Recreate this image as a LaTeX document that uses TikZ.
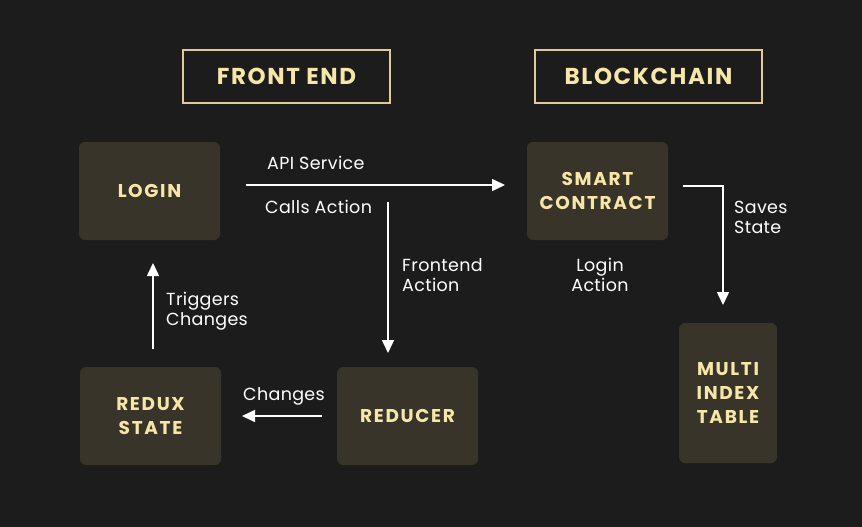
\documentclass[tikz,border=0pt]{standalone}
\usepackage{fontspec}
\setmainfont{Poppins}
\newfontfamily\boxfont[LetterSpace=9]{Poppins}
\newfontfamily\headfont[LetterSpace=7]{Poppins}
\newfontfamily\lblfont[LetterSpace=2]{Poppins}
\usetikzlibrary{arrows.meta}
\definecolor{bg}{HTML}{1C1C1C}
\definecolor{boxfill}{HTML}{38342A}
\definecolor{gold}{HTML}{F6E7A9}
\definecolor{frame}{HTML}{E2CB93}
\tikzset{
  x=1pt,y=-1pt,
  block/.style={fill=boxfill,rounded corners=6pt,text=gold,font=\boxfont\bfseries\fontsize{18.5}{24}\selectfont,align=center,inner sep=0pt},
  header/.style={draw=frame,line width=1.6pt,text=gold,font=\headfont\bfseries\fontsize{23}{25}\selectfont,inner sep=0pt},
  lbl/.style={text=white,font=\lblfont\fontsize{17.5}{20}\selectfont,align=left,inner sep=0pt},
  conn/.style={draw=white,line width=1.6pt,-{Triangle[width=12pt,length=13pt]}}
}
\begin{document}
\begin{tikzpicture}
\fill[bg] (0,0) rectangle (862,527);
\useasboundingbox (0,0) rectangle (862,527);
\node[header,minimum width=207pt,minimum height=53pt] (fe) at (286.5,76.5) {FRONT END};
\node[header,minimum width=227pt,minimum height=53pt] (bc) at (648.5,76.5) {BLOCKCHAIN};
\node[block,minimum width=141pt,minimum height=98pt] (login) at (149.5,191) {LOGIN};
\node[block,minimum width=141pt,minimum height=98pt] (smart) at (597.5,191) {SMART\\CONTRACT};
\node[block,minimum width=141pt,minimum height=98pt] (redux) at (150.5,416) {REDUX\\STATE};
\node[block,minimum width=141pt,minimum height=98pt] (reducer) at (407.5,416) {REDUCER};
\node[block,minimum width=98pt,minimum height=140pt] (multi) at (728,393) {MULTI\\INDEX\\TABLE};
% connectors
\coordinate (a1) at (246,185);
\coordinate (a2) at (505,185);
\draw[conn] (a1) -- (a2);
\coordinate (b1) at (388,202);
\coordinate (b2) at (388,353);
\draw[conn] (b1) -- (b2);
\coordinate (c1) at (683,186);
\coordinate (c2) at (723,305);
\draw[conn] (c1) -| (c2);
\coordinate (d1) at (153,349);
\coordinate (d2) at (153,263);
\draw[conn] (d1) -- (d2);
\coordinate (e1) at (322,416);
\coordinate (e2) at (242,416);
\draw[conn] (e1) -- (e2);
% labels
\node[lbl,anchor=west] (l1) at (267,163) {API Service};
\node[lbl,anchor=west] (l2) at (265,207) {Calls Action};
\node[lbl,anchor=west,align=left] (l3) at (402,275) {Frontend\\Action};
\node[lbl,anchor=west] (l4) at (734,217) {Saves\\State};
\node[lbl,align=center] (l5) at (600,275) {Login\\Action};
\node[lbl,anchor=west] (l6) at (166,311) {Triggers\\Changes};
\node[lbl,align=center] (l7) at (284,396) {Changes};
\end{tikzpicture}
\end{document}
